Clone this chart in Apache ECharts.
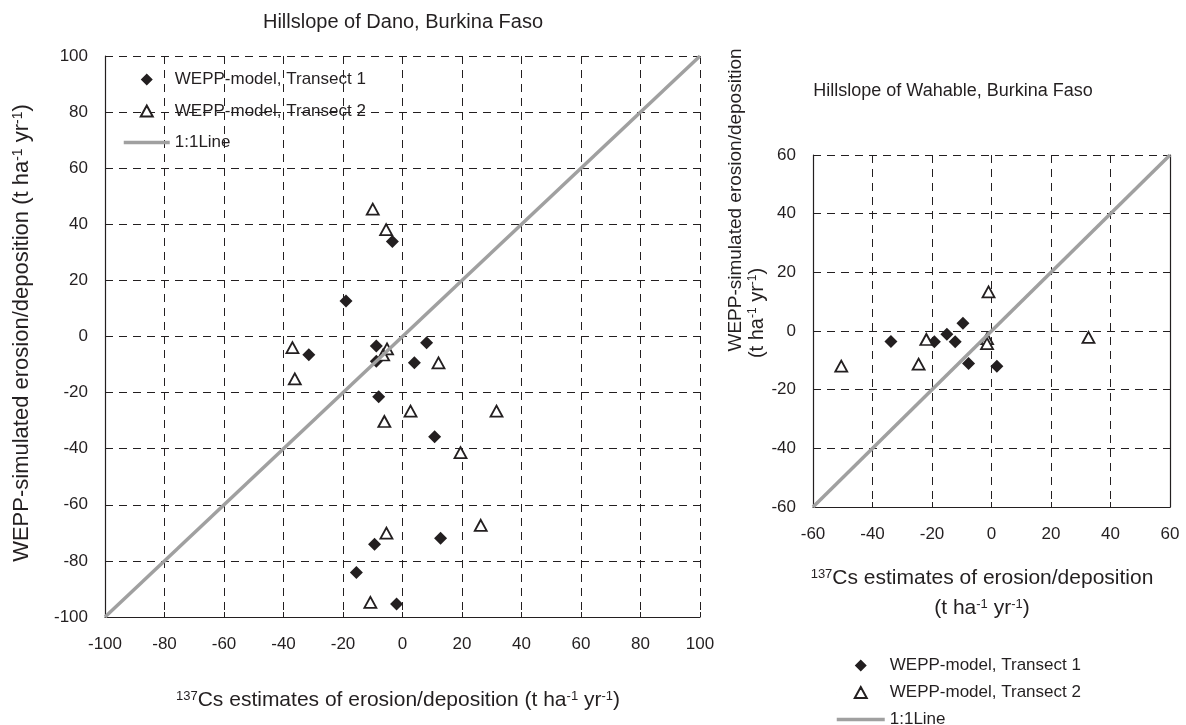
<!DOCTYPE html>
<html><head><meta charset="utf-8">
<script src="https://cdn.jsdelivr.net/npm/echarts@6/dist/echarts.min.js"></script>
<style>html,body{margin:0;padding:0;background:#fff}#c{width:1186px;height:725px}</style>
</head><body><div id="c"></div>
<script>
// ---- data ----
const danoTransect1 = [[-19,12.7],[-31.5,-6.5],[-3.4,33.9],[-8.8,-3.4],[-8.8,-8.8],[8.1,-2.2],[4.0,-9.4],[-8.0,-21.5],[10.8,-35.7],[12.8,-71.9],[-9.4,-74.1],[-15.5,-84.1],[-2.0,-95.4]];
const danoTransect2 = [[-37,-4],[-36.2,-15.1],[-10,45.4],[-5.5,38.1],[-5.2,-4.4],[-6.5,-6.6],[12.1,-9.4],[2.7,-26.6],[31.6,-26.6],[-6.1,-30.3],[19.5,-41.4],[26.3,-67.3],[-5.4,-70.1],[-10.8,-94.8]];
const danoOneToOne = [[-100,-100],[100,100]];
const wahTransect1 = [[-33.8,-3.6],[-19.2,-3.7],[-15,-1.1],[-12.2,-3.7],[-9.6,2.6],[-7.7,-11.1],[1.8,-12.0]];
const wahTransect2 = [[-50.5,-12],[-21.9,-2.9],[-24.5,-11.3],[-1,13.3],[-1.5,-2.6],[-1.5,-4.3],[32.6,-2.2]];
const wahOneToOne = [[-60,-60],[60,60]];
const seriesNames = ['WEPP-model, Transect 1','WEPP-model, Transect 2','1:1Line'];
const danoRange = {min:-100, max:100, interval:20};
const wahRange = {min:-60, max:60, interval:20};
const titles = {dano:'Hillslope of Dano, Burkina Faso', wah:'Hillslope of Wahable, Burkina Faso'};

// ---- styling ----
const F = '"Liberation Sans", Arial, sans-serif';
const ink = '#231f20';
const lineGray = '#a0a0a0';
const chart = echarts.init(document.getElementById('c'));

function bottomX(gi, r){
  return {type:'value', gridIndex:gi, position:'bottom', min:r.min, max:r.max, interval:r.interval,
    axisLine:{show:true, onZero:false, lineStyle:{color:ink, width:1.2}},
    axisTick:{show:true, inside:true, length:5, lineStyle:{color:ink}},
    axisLabel:{color:ink, fontSize:17, margin:19, fontFamily:F},
    splitLine:{show:true, lineStyle:{color:ink, width:1, type:[8,6]}}};
}
function leftY(gi, r){
  return {type:'value', gridIndex:gi, position:'left', min:r.min, max:r.max, interval:r.interval,
    axisLine:{show:true, onZero:false, lineStyle:{color:ink, width:1.2}},
    axisTick:{show:true, inside:true, length:5, lineStyle:{color:ink}},
    axisLabel:{color:ink, fontSize:17, margin:17, fontFamily:F},
    splitLine:{show:true, lineStyle:{color:ink, width:1, type:[8,6]}}};
}
function topX(gi, r){
  return {type:'value', gridIndex:gi, position:'top', min:r.min, max:r.max, interval:r.interval,
    axisLine:{show:false, onZero:false}, axisTick:{show:true, inside:true, length:5, lineStyle:{color:ink}},
    axisLabel:{show:false}, splitLine:{show:false}};
}
function txt(x, y, text, size, rot){
  return {type:'text', x:x, y:y, rotation:rot||0,
    style:{text:text, fill:ink, fontSize:size, fontFamily:F, align:'center', verticalAlign:'middle',
      rich:{sup:{fontSize:Math.round(size*0.62), verticalAlign:'top', fontFamily:F, fill:ink}}}};
}

function scatterT1(xi, yi, data){
  return {name:seriesNames[0], type:'scatter', xAxisIndex:xi, yAxisIndex:yi, data:data,
    symbol:'diamond', symbolSize:13, itemStyle:{color:ink, opacity:1}, z:3};
}
function scatterT2(xi, yi, data){
  return {name:seriesNames[1], type:'scatter', xAxisIndex:xi, yAxisIndex:yi, data:data,
    symbol:'triangle', symbolSize:[12,11],
    itemStyle:{color:'#ffffff', borderColor:ink, borderWidth:1.8, opacity:1}, z:3};
}
function oneLine(xi, yi, data){
  return {name:seriesNames[2], type:'line', xAxisIndex:xi, yAxisIndex:yi, data:data, symbol:'none',
    lineStyle:{color:lineGray, width:3.5}, itemStyle:{color:lineGray}, z:4};
}
// legend icons padded to the full legend item width so they are not stretched
function padIcon(w, shape){
  return 'path://M0,6L0.01,6Z' + shape + 'M' + (w-0.01) + ',6L' + w + ',6Z';
}
function legend(left, top, w, gap){
  const c = w/2;
  return {
    data:[
      {name:seriesNames[0], icon:padIcon(w, 'M'+(c-6)+',6L'+c+',0L'+(c+6)+',6L'+c+',12Z')},
      {name:seriesNames[1], icon:padIcon(w, 'M'+c+',0.5L'+(c+6)+',11.5L'+(c-6)+',11.5Z')},
      {name:seriesNames[2], itemStyle:{color:'rgba(0,0,0,0)', borderWidth:0, opacity:0}, lineStyle:{color:lineGray, width:3.5}}
    ],
    orient:'vertical', left:left, top:top, height:80, itemWidth:w, itemHeight:12, itemGap:gap,
    padding:0, textStyle:{fontSize:17, color:ink, lineHeight:16, fontFamily:F}};
}

const option = {
  animation:false,
  backgroundColor:'#ffffff',
  textStyle:{fontFamily:F},
  grid:[
    {left:105, top:56, width:595, height:561},
    {left:813, top:155, width:357, height:352}
  ],
  xAxis:[ bottomX(0, danoRange), bottomX(1, wahRange), topX(0, danoRange), topX(1, wahRange) ],
  yAxis:[ leftY(0, danoRange), leftY(1, wahRange),
    {type:'value', gridIndex:1, position:'right', min:wahRange.min, max:wahRange.max, interval:wahRange.interval,
     axisLine:{show:true, onZero:false, lineStyle:{color:ink, width:1.2}}, axisTick:{show:false}, axisLabel:{show:false}, splitLine:{show:false}} ],
  legend:[ legend(122, 71, 46, 14.5), legend(835, 657, 48, 10) ],
  series:[
    scatterT1(0,0,danoTransect1), scatterT2(0,0,danoTransect2), oneLine(0,0,danoOneToOne),
    scatterT1(1,1,wahTransect1), scatterT2(1,1,wahTransect2), oneLine(1,1,wahOneToOne)
  ],
  graphic:[
    txt(403, 22, titles.dano, 20),
    txt(953, 91, titles.wah, 18),
    txt(22, 333, 'WEPP-simulated erosion/deposition (t ha{sup|-1} yr{sup|-1})', 22, Math.PI/2),
    txt(398, 700, '{sup|137}Cs estimates of erosion/deposition (t ha{sup|-1} yr{sup|-1})', 21),
    txt(736, 200, 'WEPP-simulated erosion/deposition', 19, Math.PI/2),
    txt(757, 313, '(t ha{sup|-1} yr{sup|-1})', 20, Math.PI/2),
    txt(982, 578, '{sup|137}Cs estimates of erosion/deposition', 21),
    txt(982, 608, '(t ha{sup|-1} yr{sup|-1})', 21)
  ]
};
chart.setOption(option);
</script>
</body></html>
